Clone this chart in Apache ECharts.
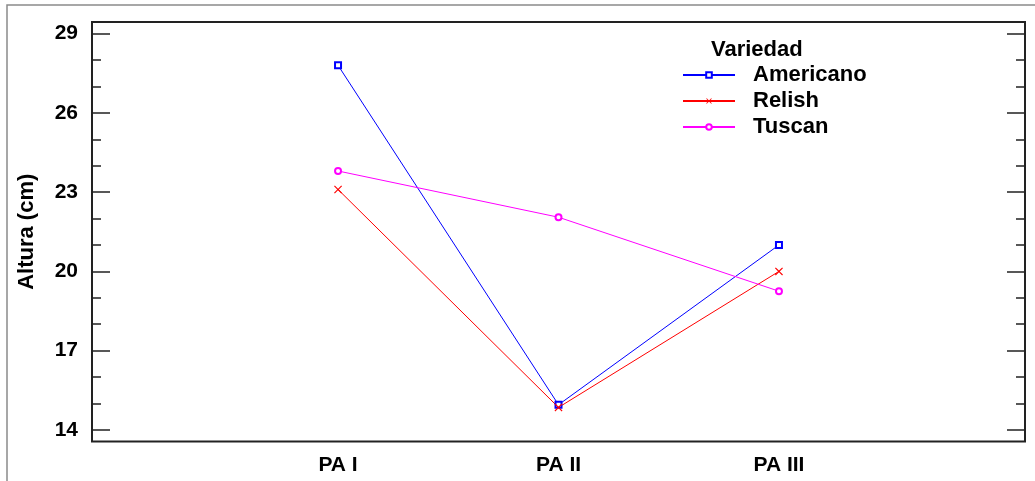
<!DOCTYPE html>
<html>
<head>
<meta charset="utf-8">
<script src="https://cdn.jsdelivr.net/npm/echarts@6/dist/echarts.min.js"></script>
<style>
html,body{margin:0;padding:0;background:#fff;}
#chart{width:1035px;height:481px;}
</style>
</head>
<body>
<div id="chart"></div>
<script>
var categories = ['PA I', 'PA II', 'PA III'];
var americano = [27.8, 14.95, 21.0];
var relish = [23.1, 14.85, 20.0];
var tuscan = [23.8, 22.05, 19.25];
var majorTicks = [14, 17, 20, 23, 26, 29];
var minorTicks = [15, 16, 18, 19, 21, 22, 24, 25, 27, 28];
var legendTitle = 'Variedad';
var yName = 'Altura (cm)';

function toPoints(vals) {
  return vals.map(function (v, i) { return [i + 1, v]; });
}

var FONT = '"Liberation Sans", Arial, sans-serif';
var yMin = 13.56, yMax = 29.44;
var xMin = -0.116, xMax = 4.116;
var xPath = 'path://M0,1L1,0L5,4L9,0L10,1L6,5L10,9L9,10L5,6L1,10L0,9L4,5Z';

function yAxis(pos, ticks, len, labels) {
  var a = {
    type: 'value', position: pos, min: yMin, max: yMax,
    axisLine: { show: false, onZero: false },
    splitLine: { show: false },
    axisTick: { show: true, inside: true, length: len, customValues: ticks,
      lineStyle: { color: '#222', width: 1.5 } },
    axisLabel: { show: false }
  };
  if (labels) {
    a.axisLabel = { show: true, customValues: ticks, margin: 14,
      color: '#000', fontFamily: FONT, fontWeight: 'bold', fontSize: 21 };
    a.name = yName;
    a.nameLocation = 'middle';
    a.nameGap = 54;
    a.nameTextStyle = { color: '#000', fontFamily: FONT, fontWeight: 'bold', fontSize: 22 };
  }
  return a;
}

var chart = echarts.init(document.getElementById('chart'), null, { renderer: 'canvas' });
chart.setOption({
  animation: false,
  backgroundColor: '#fff',
  graphic: [{
    type: 'rect', shape: { x: 7, y: 5, width: 1200, height: 700 },
    style: { fill: 'none', stroke: '#8a8a8a', lineWidth: 1.5 }, z: -1
  }],
  title: {
    text: legendTitle, left: 706, top: 34,
    textStyle: { color: '#000', fontFamily: FONT, fontWeight: 'bold', fontSize: 22 }
  },
  legend: {
    orient: 'vertical', left: 682, top: 64, padding: 0,
    itemWidth: 52, itemHeight: 7, itemGap: 4,
    textStyle: { color: '#000', fontFamily: FONT, fontWeight: 'bold', fontSize: 22,
      padding: [0, 0, 0, 13], lineHeight: 22 },
    data: ['Americano', 'Relish', 'Tuscan']
  },
  grid: {
    left: 92, right: 10, top: 22, bottom: 39.5, show: true,
    borderColor: '#222', borderWidth: 2, backgroundColor: 'transparent'
  },
  xAxis: {
    type: 'value', min: xMin, max: xMax,
    axisLine: { show: false, onZero: false }, axisTick: { show: false }, splitLine: { show: false },
    axisLabel: {
      customValues: [1, 2, 3], margin: 13,
      color: '#000', fontFamily: FONT, fontWeight: 'bold', fontSize: 21,
      formatter: function (v) { return categories[Math.round(v) - 1] || ''; }
    }
  },
  yAxis: [
    yAxis('left', majorTicks, 18, true),
    yAxis('left', minorTicks, 9, false),
    yAxis('right', majorTicks, 18, false),
    yAxis('right', minorTicks, 9, false)
  ],
  series: [
    { name: 'Americano', type: 'line', data: toPoints(americano), yAxisIndex: 0,
      symbol: 'emptyRect', symbolSize: 6, color: '#0000ff',
      lineStyle: { width: 1, color: '#0000ff' },
      itemStyle: { color: '#0000ff', borderColor: '#0000ff', borderWidth: 1 } },
    { name: 'Relish', type: 'line', data: toPoints(relish), yAxisIndex: 0,
      symbol: xPath, symbolSize: 8, color: '#ff0000',
      lineStyle: { width: 1, color: '#ff0000' },
      itemStyle: { color: '#ff0000', borderWidth: 0 } },
    { name: 'Tuscan', type: 'line', data: toPoints(tuscan), yAxisIndex: 0,
      symbol: 'emptyCircle', symbolSize: 6, color: '#ff00ff',
      lineStyle: { width: 1, color: '#ff00ff' },
      itemStyle: { color: '#ff00ff', borderColor: '#ff00ff', borderWidth: 1 } }
  ]
});
</script>
</body>
</html>
